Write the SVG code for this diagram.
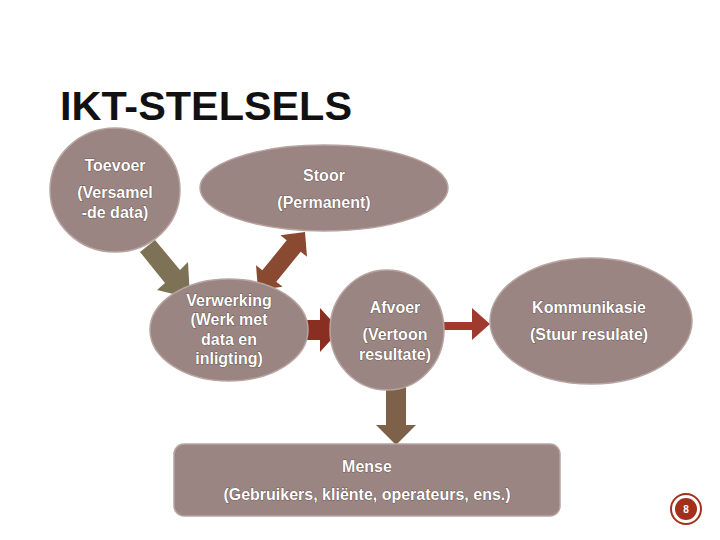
<svg xmlns="http://www.w3.org/2000/svg" width="720" height="540" viewBox="0 0 720 540">
<style>
.n{fill:#9b8582;stroke:#b7a4a0;stroke-width:1.5}
.t{font-family:"Liberation Sans",Arial,sans-serif;font-weight:bold;font-size:16px;fill:#fff;stroke:#3a2a28;stroke-width:0.6;paint-order:stroke;text-anchor:middle}
.title{font-family:"Liberation Sans",Arial,sans-serif;font-weight:bold;font-size:41px;fill:#111}
</style>
<rect width="720" height="540" fill="#fff"/>
<text class="title" x="60" y="120" textLength="292" lengthAdjust="spacingAndGlyphs">IKT-STELSELS</text>
<g id="connectors">
<polygon points="140,252 155,240 180,270 188,262 190,298 157,290 165,283" fill="#7d7156"/>
<polygon points="258,290 282.6,286.7 276.3,281.7 300.7,251.7 307,256.7 305,232 280.4,235.3 286.7,240.3 262.3,270.3 256,265.3" fill="#8a4a32"/>
<polygon points="296,320 320,320 320,308 340,330 320,352 320,340 296,340" fill="#8b2e22"/>
<polygon points="440,322 472,322 472,308 490,324 472,340 472,330 440,330" fill="#a03a2e"/>
<polygon points="386,372 406,372 406,425 416,425 396,445 376,425 386,425" fill="#7d6148"/>
</g>
<g id="toevoer"><ellipse class="n" cx="115" cy="190" rx="65" ry="62"/>
<text class="t" x="115" y="171">Toevoer</text><text class="t" x="115" y="198">(Versamel</text><text class="t" x="115" y="218">-de data)</text></g>
<g id="stoor"><ellipse class="n" cx="324" cy="188" rx="124" ry="43"/>
<text class="t" x="324" y="181">Stoor</text><text class="t" x="324" y="208">(Permanent)</text></g>
<g id="verwerking"><ellipse class="n" cx="229" cy="330" rx="79" ry="51"/>
<text class="t" x="229" y="306">Verwerking</text><text class="t" x="229" y="325">(Werk met</text><text class="t" x="229" y="345">data en</text><text class="t" x="229" y="364">inligting)</text></g>
<g id="afvoer"><ellipse class="n" cx="387" cy="330" rx="57" ry="60"/>
<text class="t" x="395" y="313">Afvoer</text><text class="t" x="395" y="340">(Vertoon</text><text class="t" x="395" y="360">resultate)</text></g>
<g id="kommunikasie"><ellipse class="n" cx="591" cy="321" rx="101" ry="63"/>
<text class="t" x="589" y="313">Kommunikasie</text><text class="t" x="589" y="340">(Stuur resulate)</text></g>
<g id="mense"><rect class="n" x="174" y="444" width="386" height="72" rx="10"/>
<text class="t" x="367" y="472">Mense</text><text class="t" x="367" y="500">(Gebruikers, kliënte, operateurs, ens.)</text></g>
<g id="page"><circle cx="686" cy="509" r="15" fill="#fff" stroke="#a3301c" stroke-width="2"/><circle cx="686" cy="509" r="11" fill="#a3301c"/>
<text x="686" y="513" font-family="Liberation Sans,sans-serif" font-size="10" font-weight="bold" fill="#fff" text-anchor="middle">8</text></g>
</svg>
